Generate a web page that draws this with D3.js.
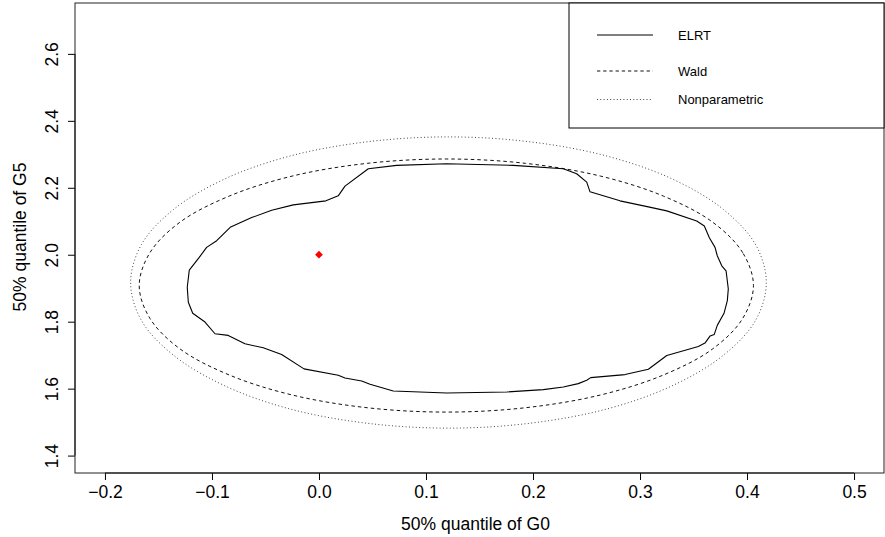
<!DOCTYPE html>
<html>
<head>
<meta charset="utf-8">
<script src="https://cdn.jsdelivr.net/npm/d3@7"></script>
<style>
  html, body { margin: 0; padding: 0; background: #fff; }
  svg { display: block; }
  text { font-family: "Liberation Sans", Arial, Helvetica, sans-serif; fill: #000; }
</style>
</head>
<body>
<svg id="chart" width="885" height="537"></svg>
<script>
// ---- data ----
const xTicks = [-0.2, -0.1, 0.0, 0.1, 0.2, 0.3, 0.4, 0.5];
const yTicks = [1.4, 1.6, 1.8, 2.0, 2.2, 2.4, 2.6];
const xLimits = [-0.2, 0.5];
const yLimits = [1.4, 2.7];
const xTitle = "50% quantile of G0";
const yTitle = "50% quantile of G5";
const legendLabels = ["ELRT", "Wald", "Nonparametric"];

const elrtX = [0.0461, 0.0726, 0.1193, 0.1816, 0.2283, 0.2408, 0.2502, 0.2533, 0.2813, 0.3078,
  0.3250, 0.3530, 0.3601, 0.3648, 0.3701, 0.3722, 0.3764, 0.3804, 0.3825, 0.3816,
  0.3785, 0.3722, 0.3694, 0.3654, 0.3607, 0.3545, 0.3250, 0.3078, 0.2860, 0.2539,
  0.2502, 0.2423, 0.2283, 0.2096, 0.1754, 0.1193, 0.0694, 0.0477, 0.0399, 0.0243,
  0.0180, -0.0140, -0.0349, -0.0521, -0.0692, -0.0848, -0.0972, -0.1065, -0.1180, -0.1221,
  -0.1231, -0.1212, -0.1119, -0.1050, -0.0956, -0.0825, -0.0629, -0.0442, -0.0240, 0.0065,
  0.0180, 0.0243];
const elrtY = [2.257, 2.267, 2.272, 2.267, 2.257, 2.242, 2.217, 2.188, 2.161, 2.143,
  2.131, 2.101, 2.086, 2.051, 2.022, 1.997, 1.967, 1.952, 1.898, 1.863,
  1.825, 1.789, 1.762, 1.757, 1.736, 1.726, 1.699, 1.658, 1.642, 1.633,
  1.625, 1.615, 1.605, 1.597, 1.590, 1.587, 1.593, 1.613, 1.623, 1.632,
  1.640, 1.659, 1.702, 1.722, 1.734, 1.759, 1.764, 1.799, 1.825, 1.858,
  1.903, 1.954, 1.992, 2.022, 2.042, 2.083, 2.111, 2.133, 2.149, 2.161,
  2.176, 2.205];

const waldX = [0.406, 0.396, 0.368, 0.322, 0.263, 0.193, 0.119, 0.045, -0.025, -0.084, -0.130, -0.158,
  -0.168, -0.158, -0.130, -0.084, -0.025, 0.045, 0.119, 0.193, 0.263, 0.322, 0.368, 0.396];
const waldY = [1.908, 2.006, 2.097, 2.175, 2.235, 2.273, 2.286, 2.273, 2.235, 2.175, 2.097, 2.006,
  1.908, 1.810, 1.719, 1.641, 1.581, 1.543, 1.530, 1.543, 1.581, 1.641, 1.719, 1.810];

const nonparX = [0.418, 0.408, 0.378, 0.331, 0.270, 0.198, 0.121, 0.044, -0.028, -0.089, -0.136, -0.166,
  -0.176, -0.166, -0.136, -0.089, -0.028, 0.044, 0.121, 0.198, 0.270, 0.331, 0.378, 0.408];
const nonparY = [1.917, 2.030, 2.135, 2.225, 2.294, 2.337, 2.352, 2.337, 2.294, 2.225, 2.135, 2.030,
  1.917, 1.804, 1.700, 1.610, 1.540, 1.497, 1.482, 1.497, 1.540, 1.610, 1.700, 1.804];

const pointX = [0.0];
const pointY = [2.0];

// ---- layout ----
const plot = { left: 75, right: 884, top: 3, bottom: 473 };
const svg = d3.select("#chart");

function ext(lim) { const d = (lim[1] - lim[0]) * 0.04; return [lim[0] - d, lim[1] + d]; }
const x = d3.scaleLinear().domain(ext(xLimits)).range([plot.left, plot.right]);
const y = d3.scaleLinear().domain(ext(yLimits)).range([plot.bottom, plot.top]);

const fmt = v => d3.format(".1f")(v).replace("-", "\u2212");

svg.append("clipPath").attr("id", "clip").append("rect")
  .attr("x", plot.left).attr("y", plot.top)
  .attr("width", plot.right - plot.left).attr("height", plot.bottom - plot.top);

const g = svg.append("g").attr("clip-path", "url(#clip)");
const line = d3.line().x(d => x(d[0])).y(d => y(d[1])).curve(d3.curveLinearClosed);
const smooth = d3.line().x(d => x(d[0])).y(d => y(d[1])).curve(d3.curveCatmullRomClosed.alpha(0.5));

const nonpar = nonparX.map((v, i) => [v, nonparY[i]]);
const wald = waldX.map((v, i) => [v, waldY[i]]);
const elrt = elrtX.map((v, i) => [v, elrtY[i]]);

g.append("path").attr("d", smooth(nonpar)).attr("fill", "none")
  .attr("stroke", "#444").attr("stroke-width", 1).attr("stroke-dasharray", "1,2.4");
g.append("path").attr("d", smooth(wald)).attr("fill", "none")
  .attr("stroke", "#111").attr("stroke-width", 1).attr("stroke-dasharray", "3.5,3");
g.append("path").attr("d", line(elrt)).attr("fill", "none")
  .attr("stroke", "#000").attr("stroke-width", 1.1).attr("stroke-linejoin", "round");

g.selectAll(".pt").data(pointX.map((v, i) => [v, pointY[i]])).enter().append("path")
  .attr("d", d3.symbol(d3.symbolSquare, 30)())
  .attr("transform", d => `translate(${x(d[0])},${y(d[1])}) rotate(45)`)
  .attr("fill", "#ff0000");

// axes
const xAxis = d3.axisBottom(x).tickValues(xTicks).tickSize(7).tickPadding(6).tickFormat(fmt);
const xa = svg.append("g").attr("transform", `translate(0,${plot.bottom})`).call(xAxis);
xa.select(".domain").remove();
xa.selectAll("text").style("font-size", "17.5px").style("font-family", '"Liberation Sans", Arial, sans-serif');
xa.selectAll("line").attr("stroke", "#000");
svg.append("line").attr("x1", x(xTicks[0])).attr("x2", x(xTicks[xTicks.length - 1]))
  .attr("y1", plot.bottom).attr("y2", plot.bottom).attr("stroke", "#000");

const yAxis = d3.axisLeft(y).tickValues(yTicks).tickSize(7).tickFormat(fmt);
const ya = svg.append("g").attr("transform", `translate(${plot.left},0)`).call(yAxis);
ya.select(".domain").remove();
ya.selectAll("line").attr("stroke", "#000");
ya.selectAll("text").remove();
ya.selectAll(".tick").append("text")
  .attr("transform", "translate(-17,0) rotate(-90)")
  .attr("text-anchor", "middle")
  .style("font-size", "17.5px")
  .style("font-family", '"Liberation Sans", Arial, sans-serif')
  .attr("fill", "#000")
  .text(d => fmt(d));
svg.append("line").attr("x1", plot.left).attr("x2", plot.left)
  .attr("y1", y(yTicks[0])).attr("y2", y(yTicks[yTicks.length - 1])).attr("stroke", "#000");

// box
svg.append("rect").attr("x", plot.left).attr("y", plot.top)
  .attr("width", plot.right - plot.left).attr("height", plot.bottom - plot.top)
  .attr("fill", "none").attr("stroke", "#222").attr("stroke-width", 1);

// titles
svg.append("text").attr("x", (plot.left + plot.right) / 2 - 4).attr("y", 530)
  .attr("text-anchor", "middle").style("font-size", "17.5px").text(xTitle);
svg.append("text").attr("transform", `translate(26,${(plot.top + plot.bottom) / 2 - 1}) rotate(-90)`)
  .attr("text-anchor", "middle").style("font-size", "17.5px").text(yTitle);

// legend
const leg = { left: 569, top: plot.top, right: plot.right, bottom: 128 };
svg.append("rect").attr("x", leg.left).attr("y", leg.top)
  .attr("width", leg.right - leg.left).attr("height", leg.bottom - leg.top)
  .attr("fill", "#fff").attr("stroke", "#000").attr("stroke-width", 1);
const rowY = [35, 71, 99.5];
const dashes = [null, "3.3,2.9", "1,2.3"];
const legColors = ["#000", "#111", "#444"];
legendLabels.forEach((lab, i) => {
  svg.append("line").attr("x1", 597).attr("x2", 653).attr("y1", rowY[i]).attr("y2", rowY[i])
    .attr("stroke", legColors[i]).attr("stroke-width", 1)
    .attr("stroke-dasharray", dashes[i]);
  svg.append("text").attr("x", 678).attr("y", rowY[i] + 4.7)
    .style("font-size", "13px").text(lab);
});
</script>
</body>
</html>
